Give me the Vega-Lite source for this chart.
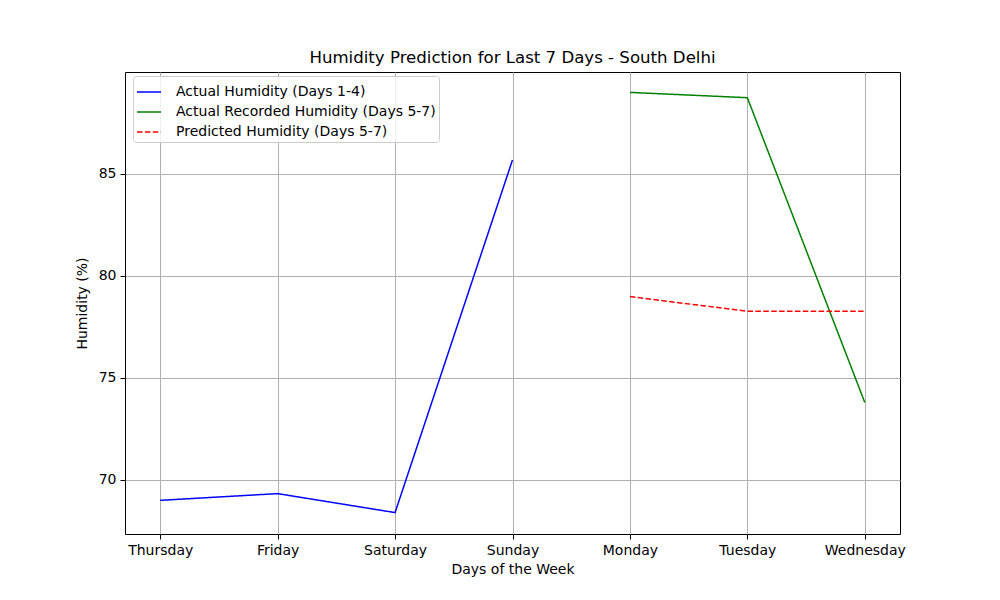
{
  "$schema": "https://vega.github.io/schema/vega-lite/v6.json",
  "autosize": {"type": "none"},
  "width": 775,
  "height": 462,
  "padding": {"left": 125, "top": 72, "right": 100, "bottom": 66},
  "background": "white",
  "config": {
    "font": "DejaVu Sans",
    "view": {"stroke": "black", "strokeWidth": 1}
  },
  "title": {
    "text": "Humidity Prediction for Last 7 Days - South Delhi",
    "fontSize": 16.6,
    "fontWeight": "normal",
    "font": "DejaVu Sans",
    "color": "black",
    "offset": 5
  },
  "data": {
    "values": [
      {"day": "Thursday", "humidity": 69.0, "series": "Actual Humidity (Days 1-4)"},
      {"day": "Friday", "humidity": 69.33, "series": "Actual Humidity (Days 1-4)"},
      {"day": "Saturday", "humidity": 68.4, "series": "Actual Humidity (Days 1-4)"},
      {"day": "Sunday", "humidity": 85.69, "series": "Actual Humidity (Days 1-4)"},
      {"day": "Monday", "humidity": 89.0, "series": "Actual Recorded Humidity (Days 5-7)"},
      {"day": "Tuesday", "humidity": 88.74, "series": "Actual Recorded Humidity (Days 5-7)"},
      {"day": "Wednesday", "humidity": 73.8, "series": "Actual Recorded Humidity (Days 5-7)"},
      {"day": "Monday", "humidity": 78.99, "series": "Predicted Humidity (Days 5-7)"},
      {"day": "Tuesday", "humidity": 78.27, "series": "Predicted Humidity (Days 5-7)"},
      {"day": "Wednesday", "humidity": 78.27, "series": "Predicted Humidity (Days 5-7)"}
    ]
  },
  "mark": {"type": "line", "strokeWidth": 1.5},
  "encoding": {
    "x": {
      "field": "day",
      "type": "ordinal",
      "sort": ["Thursday", "Friday", "Saturday", "Sunday", "Monday", "Tuesday", "Wednesday"],
      "scale": {"type": "point", "padding": 0.3},
      "axis": {
        "title": "Days of the Week",
        "titleFontSize": 14,
        "titleFontWeight": "normal",
        "titleColor": "black",
        "titlePadding": 5,
        "labelAngle": 0,
        "labelFontSize": 14,
        "labelColor": "black",
        "labelPadding": 4,
        "tickSize": 5,
        "tickColor": "black",
        "domain": false,
        "grid": true,
        "gridColor": "#b0b0b0",
        "gridWidth": 1
      }
    },
    "y": {
      "field": "humidity",
      "type": "quantitative",
      "scale": {"domain": [67.35, 90.0], "nice": false, "zero": false},
      "axis": {
        "title": "Humidity (%)",
        "titleFontSize": 14,
        "titleFontWeight": "normal",
        "titleColor": "black",
        "titlePadding": 9,
        "values": [70, 75, 80, 85],
        "labelFontSize": 14,
        "labelColor": "black",
        "labelPadding": 4,
        "tickSize": 5,
        "tickColor": "black",
        "domain": false,
        "grid": true,
        "gridColor": "#b0b0b0",
        "gridWidth": 1
      }
    },
    "color": {
      "field": "series",
      "type": "nominal",
      "scale": {
        "domain": ["Actual Humidity (Days 1-4)", "Actual Recorded Humidity (Days 5-7)", "Predicted Humidity (Days 5-7)"],
        "range": ["#0000ff", "#008000", "#ff0000"]
      },
      "legend": {
        "title": null,
        "orient": "none",
        "legendX": 8,
        "legendY": 4,
        "symbolType": "stroke",
        "symbolSize": 576,
        "symbolStrokeWidth": 1.5,
        "labelFontSize": 14,
        "labelColor": "black",
        "labelLimit": 0,
        "labelOffset": 14,
        "rowPadding": -2,
        "padding": 3,
        "strokeColor": "#cccccc",
        "fillColor": "rgba(255,255,255,0.8)",
        "cornerRadius": 3
      }
    },
    "strokeDash": {
      "field": "series",
      "type": "nominal",
      "scale": {
        "domain": ["Actual Humidity (Days 1-4)", "Actual Recorded Humidity (Days 5-7)", "Predicted Humidity (Days 5-7)"],
        "range": [[1, 0], [1, 0], [5.5, 2.4]]
      },
      "legend": null
    }
  }
}
